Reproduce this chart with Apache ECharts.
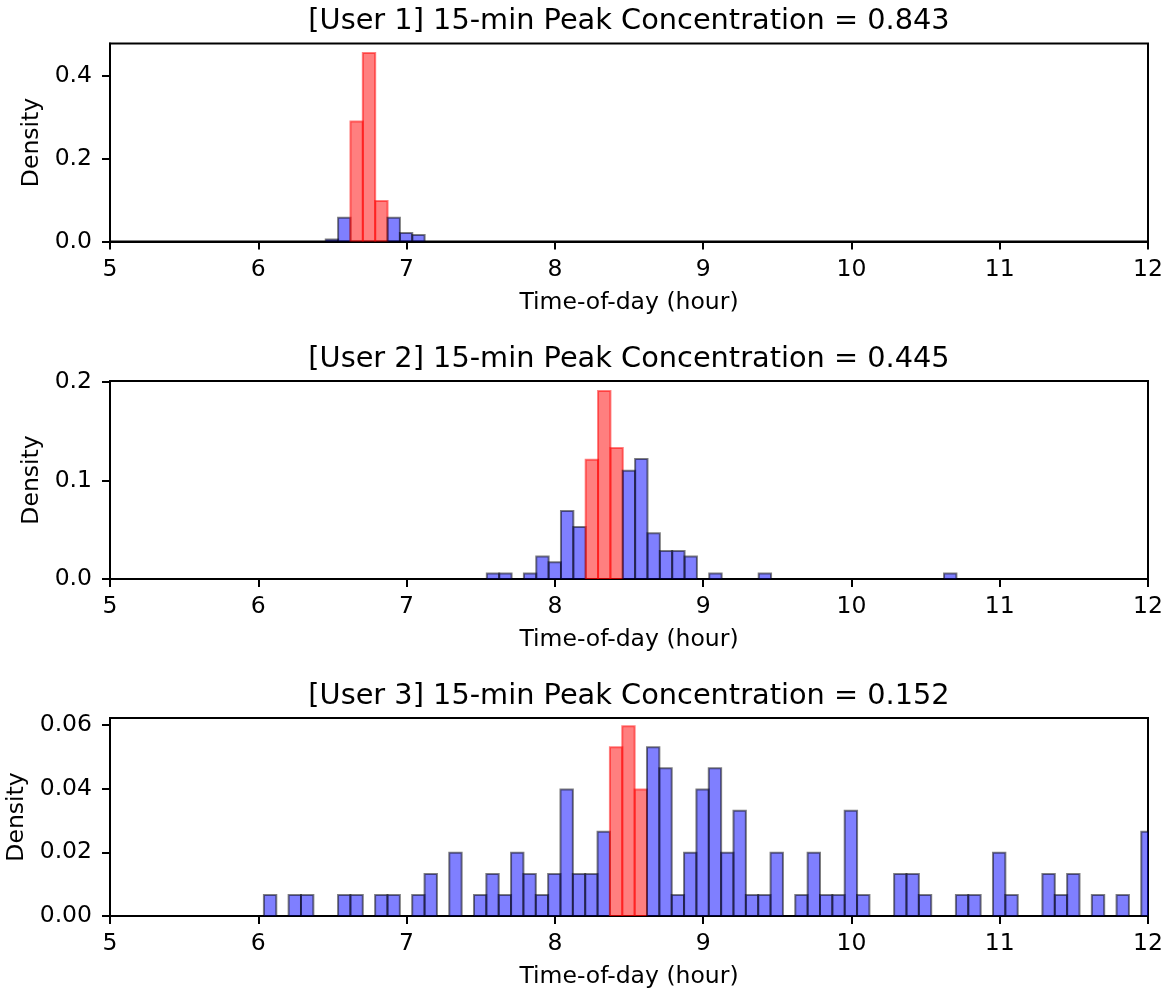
<!DOCTYPE html>
<html>
<head>
<meta charset="utf-8">
<script src="https://cdn.jsdelivr.net/npm/echarts@6/dist/echarts.min.js"></script>
<style>
  html, body { margin: 0; padding: 0; background: #fff; }
  #main { width: 1173px; height: 993px; }
</style>
</head>
<body>
<div id="main"></div>
<script>
// histogram bins are 5 minutes wide (in hours)
const binWidth = 1 / 12;

// user 1
const user1Title = '[User 1] 15-min Peak Concentration = 0.843';
const user1Start = 6.455;
const user1Density = [0.005, 0.0573, 0.29, 0.4557, 0.0976, 0.0573, 0.0205, 0.0157];
const user1Peak = [2, 4];               // first and last peak bin index
const user1YMax = 0.4785;
const user1YTicks = [0, 0.2, 0.4];

// user 2
const user2Title = '[User 2] 15-min Peak Concentration = 0.445';
const user2Start = 7.5413;
const user2Density = [
  0.0056, 0.0056, 0, 0.0056, 0.0228, 0.017, 0.069, 0.0528,
  0.121, 0.191, 0.133,
  0.110, 0.122, 0.0464, 0.0284, 0.0284, 0.0228, 0, 0.0056,
  0, 0, 0, 0.0056, 0, 0, 0, 0, 0, 0, 0, 0, 0, 0, 0, 0, 0, 0, 0.0056
];
const user2Peak = [8, 10];
const user2YMax = 0.2011;
const user2YTicks = [0, 0.1, 0.2];

// user 3
const user3Title = '[User 3] 15-min Peak Concentration = 0.152';
const user3Start = 6.038;
const user3Density = [
  0.0066, 0, 0.0066, 0.0066, 0, 0, 0.0066, 0.0066, 0, 0.0066,
  0.0066, 0, 0.0066, 0.0132, 0, 0.0199, 0, 0.0066, 0.0132, 0.0066,
  0.0199, 0.0132, 0.0066, 0.0132, 0.0397, 0.0132, 0.0132, 0.0265, 0.053, 0.0596,
  0.0397, 0.053, 0.0464, 0.0066, 0.0199, 0.0397, 0.0464, 0.0199, 0.0331, 0.0066,
  0.0066, 0.0199, 0, 0.0066, 0.0199, 0.0066, 0.0066, 0.0331, 0.0066, 0,
  0, 0.0132, 0.0132, 0.0066, 0, 0, 0.0066, 0.0066, 0, 0.0199,
  0.0066, 0, 0, 0.0132, 0.0066, 0.0132, 0, 0.0066, 0, 0.0066,
  0, 0.0265
];
const user3Peak = [28, 30];
const user3YMax = 0.0622;
const user3YTicks = [0, 0.02, 0.04, 0.06];

const xTicks = [5, 6, 7, 8, 9, 10, 11, 12];

const users = [
  { title: user1Title, start: user1Start, density: user1Density, peak: user1Peak, ymax: user1YMax, yticks: user1YTicks, digits: 1, nameGap: 66 },
  { title: user2Title, start: user2Start, density: user2Density, peak: user2Peak, ymax: user2YMax, yticks: user2YTicks, digits: 1, nameGap: 66 },
  { title: user3Title, start: user3Start, density: user3Density, peak: user3Peak, ymax: user3YMax, yticks: user3YTicks, digits: 2, nameGap: 79 }
];

const font = 'DejaVu Sans';
const gridTop = [43.5, 381, 718];
const gridHeight = 198;

function binsOf(u) {
  const rows = [];
  u.density.forEach((d, i) => {
    if (d <= 0) return;
    const x0 = u.start + i * binWidth;
    const peak = i >= u.peak[0] && i <= u.peak[1] ? 1 : 0;
    rows.push([x0, x0 + binWidth, d, peak]);
  });
  return rows;
}

function renderBin(params, api) {
  const p0 = api.coord([api.value(0), api.value(2)]);
  const p1 = api.coord([api.value(1), 0]);
  const peak = api.value(3) === 1;
  return {
    type: 'rect',
    shape: { x: p0[0], y: p0[1], width: p1[0] - p0[0], height: p1[1] - p0[1] },
    style: {
      fill: peak ? 'rgba(255,0,0,0.5)' : 'rgba(0,0,255,0.5)',
      stroke: peak ? 'rgba(255,0,0,0.5)' : 'rgba(0,0,0,0.5)',
      lineWidth: 2
    }
  };
}

const options = {
  animation: false,
  textStyle: { fontFamily: font },
  title: users.map((u, i) => ({
    text: u.title,
    left: 629,
    top: gridTop[i] - 36,
    textAlign: 'center',
    padding: 0,
    textStyle: { fontFamily: font, fontSize: 28.8, fontWeight: 'normal', color: '#000' }
  })),
  grid: users.map((u, i) => ({
    left: 110,
    right: 25,
    top: gridTop[i],
    height: gridHeight,
    show: true,
    borderColor: '#000',
    borderWidth: 2,
    containLabel: false,
    outerBoundsMode: 'none'
  })),
  xAxis: users.map((u, i) => ({
    type: 'value',
    gridIndex: i,
    min: 5,
    max: 12,
    interval: 1,
    name: 'Time-of-day (hour)',
    nameLocation: 'middle',
    nameGap: 49,
    nameTextStyle: { fontFamily: font, fontSize: 23.5, color: '#000' },
    axisLine: { show: true, onZero: false, lineStyle: { color: '#000', width: 2 } },
    axisTick: { show: true, inside: false, length: 8, lineStyle: { color: '#000', width: 2 }, customValues: xTicks },
    axisLabel: { fontFamily: font, fontSize: 23.5, color: '#000', margin: 16, customValues: xTicks },
    splitLine: { show: false }
  })),
  yAxis: users.map((u, i) => ({
    type: 'value',
    gridIndex: i,
    min: 0,
    max: u.ymax,
    name: 'Density',
    nameLocation: 'middle',
    nameGap: u.nameGap,
    nameRotate: 90,
    nameTextStyle: { fontFamily: font, fontSize: 23.5, color: '#000' },
    axisLine: { show: true, onZero: false, lineStyle: { color: '#000', width: 2 } },
    axisTick: { show: true, inside: false, length: 8, lineStyle: { color: '#000', width: 2 }, customValues: u.yticks },
    axisLabel: {
      fontFamily: font, fontSize: 23.5, color: '#000', margin: 18,
      customValues: u.yticks,
      formatter: v => Number(v).toFixed(u.digits)
    },
    splitLine: { show: false }
  })),
  series: users.map((u, i) => ({
    type: 'custom',
    xAxisIndex: i,
    yAxisIndex: i,
    clip: true,
    renderItem: renderBin,
    encode: { x: [0, 1], y: 2 },
    data: binsOf(u)
  }))
};

const myChart = echarts.init(document.getElementById('main'), null, { renderer: 'canvas' });
myChart.setOption(options);
</script>
</body>
</html>
